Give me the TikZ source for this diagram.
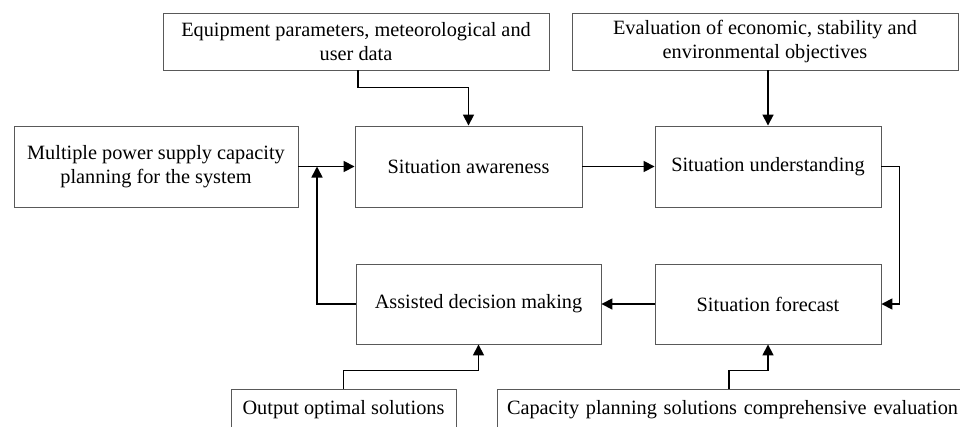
\documentclass[tikz,border=0pt]{standalone}
\usepackage{fontspec}
\setmainfont{Liberation Serif}
\usetikzlibrary{arrows.meta}
\begin{document}
\begin{tikzpicture}[x=1pt,y=-1pt,
  box/.style={draw=black!65,line width=0.9pt,inner sep=0pt,align=center,
    font=\fontsize{20.3}{24.5}\selectfont},
  arr/.style={line width=1.7pt,-{Triangle[length=11pt,width=11pt]}}]
\clip (0,0) rectangle (960,426);
\useasboundingbox (0,0) rectangle (960,426);
\node[box,minimum width=386,minimum height=57] (eq) at (356,41.5) {Equipment parameters, meteorological and\\user data};
\node[box,minimum width=386,minimum height=57] (ev) at (765,41.5) {Evaluation of economic, stability and\\environmental objectives};
\node[box,minimum width=284,minimum height=81] (mp) at (156,166.5) {Multiple power supply capacity\\planning for the system};
\node[box,minimum width=227,minimum height=81] (sa) at (468.5,166.5) {Situation awareness};
\node[box,minimum width=226,minimum height=81] (su) at (768,166.5) {Situation understanding};
\node[box,minimum width=245,minimum height=80] (adm) at (478.5,304) {Assisted decision making};
\node[box,minimum width=226,minimum height=80] (sf) at (768,304) {Situation forecast};
\node[box,minimum width=225,minimum height=42] (oos) at (343.5,410) {Output optimal solutions};
\node[box,minimum width=470,minimum height=42,text width=470,align=left] (cp) at (732,410) {\hspace*{10pt}Capacity planning solutions comprehensive evaluation};
\coordinate (j) at (317,166.5);
\draw[arr] ([xshift=2pt]eq.south) -- ++(0,17) -| (sa.north);
\draw[arr] (ev.south -| su.north) -- (su.north);
\draw[arr] (mp.east) -- (sa.west);
\draw[arr] (sa.east) -- (su.west);
\draw[arr] (su.east) -- ++(18,0) |- (sf.east);
\draw[arr] (sf.west) -- (adm.east);
\draw[arr] (adm.west) -| (j);
\draw[arr] (oos.north) -- ++(0,-18) -| (adm.south);
\draw[arr] ([xshift=-3pt]cp.north) -- ++(0,-18) -| (sf.south);
\end{tikzpicture}
\end{document}
